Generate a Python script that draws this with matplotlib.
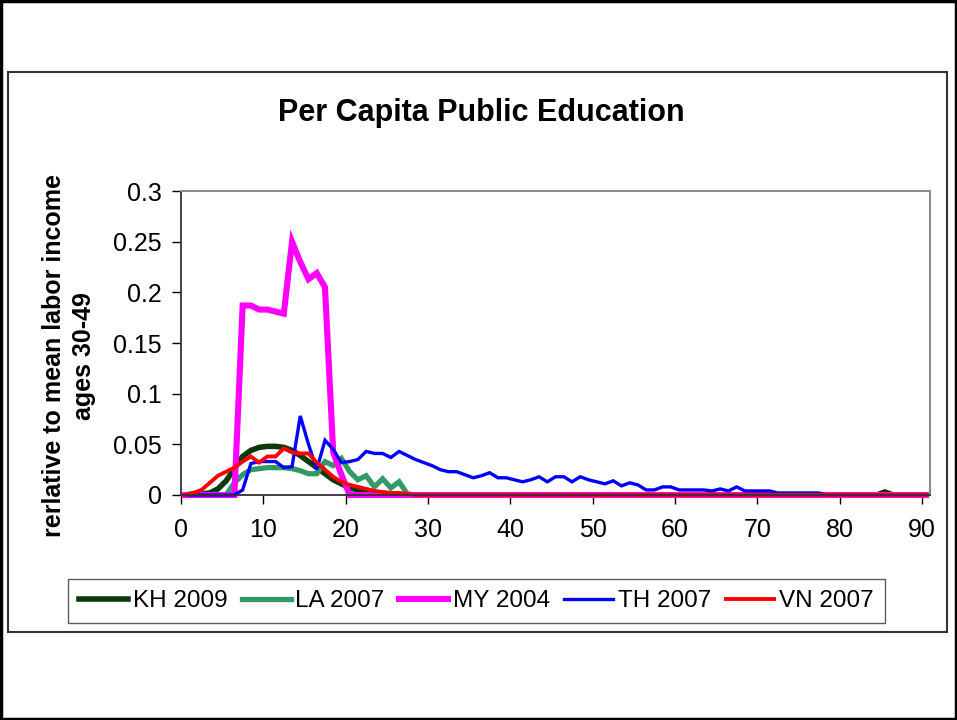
import matplotlib
matplotlib.use("Agg")
import matplotlib.pyplot as plt
import numpy as np
from matplotlib.patches import Rectangle

plt.rcParams['font.family'] = ['Liberation Sans', 'DejaVu Sans']

# ages 0..90
ages = np.arange(0, 91)

# values (ages 0..), the rest are zeros
kh_2009 = [0, 0.001, 0.001, 0.002, 0.006, 0.014, 0.026, 0.038, 0.044, 0.047,
           0.048, 0.048, 0.047, 0.044, 0.039, 0.033, 0.027, 0.021, 0.015, 0.011,
           0.007, 0.005, 0.003, 0.002, 0.001, 0.001]
la_2007 = [0, 0, 0, 0, 0, 0, 0.012, 0.02, 0.025, 0.026,
           0.027, 0.027, 0.027, 0.026, 0.024, 0.021, 0.021, 0.033, 0.029, 0.036,
           0.023, 0.015, 0.019, 0.008, 0.016, 0.007, 0.013, 0.001]
my_2004 = [0, 0, 0, 0, 0, 0, 0, 0.187, 0.187, 0.183,
           0.183, 0.181, 0.179, 0.25, 0.23, 0.213, 0.219, 0.205, 0.042, 0.02]
th_2007 = [0, 0, 0, 0, 0, 0, 0, 0.005, 0.031, 0.033,
           0.033, 0.033, 0.027, 0.028, 0.078, 0.05, 0.025, 0.054, 0.045, 0.032,
           0.033, 0.035, 0.043, 0.041, 0.041, 0.037, 0.043, 0.039, 0.035, 0.032,
           0.029, 0.025, 0.023, 0.023, 0.02, 0.017, 0.019, 0.022, 0.017, 0.017,
           0.015, 0.013, 0.015, 0.018, 0.013, 0.018, 0.018, 0.013, 0.018, 0.015,
           0.013, 0.011, 0.014, 0.009, 0.012, 0.01, 0.005, 0.005, 0.008, 0.008,
           0.005, 0.005, 0.005, 0.005, 0.004, 0.006, 0.004, 0.008, 0.004, 0.004,
           0.004, 0.004, 0.002, 0.002, 0.002, 0.002, 0.002, 0.002]
vn_2007 = [0, 0.002, 0.005, 0.012, 0.019, 0.023, 0.027, 0.033, 0.038, 0.032,
           0.038, 0.038, 0.046, 0.042, 0.041, 0.041, 0.032, 0.025, 0.018, 0.013,
           0.01, 0.008, 0.006, 0.004, 0.003, 0.002, 0.002, 0.001]


def pad(vals):
    out = np.zeros(len(ages))
    out[:len(vals)] = vals
    return out


kh = pad(kh_2009)
kh[85] = 0.003
series = [
    ("KH 2009", kh, "#0a3a0a", 4.0),
    ("LA 2007", pad(la_2007), "#339966", 3.8),
    ("MY 2004", pad(my_2004), "#ff00ff", 4.4),
    ("TH 2007", pad(th_2007), "#0000ff", 2.4),
    ("VN 2007", pad(vn_2007), "#ff0000", 2.8),
]

fig = plt.figure(figsize=(9.57, 7.2), dpi=100)
ax = fig.add_axes([0.189, 0.3125, 0.783, 0.4222])

# category centres (Excel line chart, between tick marks)
for name, vals, col, lw in series:
    ax.plot(ages + 0.5, vals, color=col, lw=lw, label=name,
            solid_joinstyle='miter', clip_on=False)

ax.set_xlim(0, 91)
ax.set_ylim(0, 0.3)
ax.set_xticks(np.arange(0, 91, 10))
ax.set_yticks(np.arange(0, 0.301, 0.05))
ax.set_yticklabels(["0", "0.05", "0.1", "0.15", "0.2", "0.25", "0.3"])
ax.tick_params(axis='both', labelsize=18, length=6.5, width=1, direction='out')
ax.tick_params(axis='x', pad=10)
ax.tick_params(axis='y', pad=7)
for s in ['top', 'right']:
    ax.spines[s].set_color('#8c8c8c')
    ax.spines[s].set_linewidth(1.5)
ax.spines['left'].set_color('#333333')
ax.spines['bottom'].set_color('#333333')
ax.spines['left'].set_linewidth(1.3)
ax.spines['bottom'].set_linewidth(1.3)

fig.text(0.503, 0.843, "Per Capita Public Education", ha='center', va='center',
         fontsize=22, fontweight='bold')
fig.text(0.072, 0.506, "rerlative to mean labor income\nages 30-49", rotation=90,
         ha='center', va='center', multialignment='center', fontsize=18,
         fontweight='bold', linespacing=1.35)

leg = fig.legend(loc='center', bbox_to_anchor=(0.498, 0.165), ncol=5,
                 fontsize=17.5, frameon=True, fancybox=False, handlelength=2.0,
                 handletextpad=0.2, columnspacing=0.6, borderpad=0.45,
                 borderaxespad=0)
leg.get_frame().set_edgecolor('#333333')
leg.get_frame().set_linewidth(1.0)

# chart area frame and outer border
fig.patches.append(Rectangle((8 / 957, 1 - 632 / 720), 939 / 957, 560 / 720,
                             transform=fig.transFigure, fill=False,
                             edgecolor='#333333', lw=1.5))
fig.patches.append(Rectangle((0.001, 0.001), 0.998, 0.998,
                             transform=fig.transFigure, fill=False,
                             edgecolor='black', lw=2.5))

fig.savefig("out.png", dpi=100)
